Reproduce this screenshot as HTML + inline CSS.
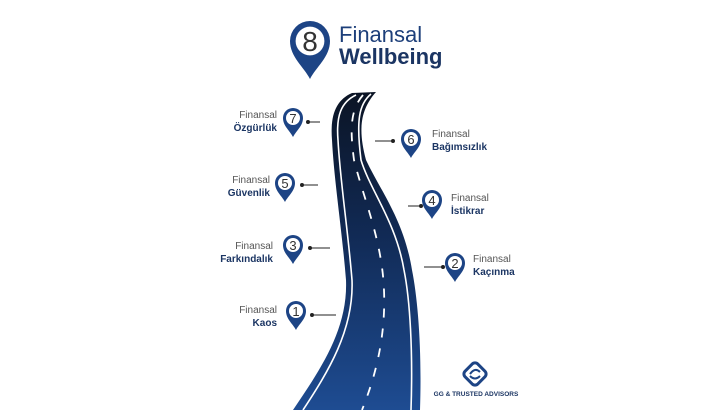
<!DOCTYPE html>
<html><head><meta charset="utf-8"><style>
html,body{margin:0;padding:0;background:#fff;}
body{width:728px;height:410px;overflow:hidden;position:relative;font-family:"Liberation Sans",sans-serif;}
.t{position:absolute;font-size:10px;line-height:13px;color:#555;}
.t b{color:#1b3563;font-weight:bold;display:block;}
.r{text-align:right;}
</style></head><body>
<svg width="728" height="410" style="position:absolute;left:0;top:0">
<defs>
<linearGradient id="g" x1="0" y1="0" x2="0" y2="1">
<stop offset="0" stop-color="#0b1424"/><stop offset="0.45" stop-color="#112a55"/><stop offset="1" stop-color="#1e4c92"/></linearGradient>
<g id="pin"><path d="M0,19 C-3,13 -10,8 -10,0 A10,10 0 1 1 10,0 C10,8 3,13 0,19Z" fill="#1d4485"/><circle r="7" fill="#fff"/></g>
</defs>
<path d="M352,93 C336,100 330,115 332,140 C334,180 342,230 346,280 C348,330 320,370 293,410 L420,410 C422,350 418,300 412,270 C404,220 380,190 366,160 C358,130 360,110 376,92 Z" fill="url(#g)"/>
<path d="M356,95 C341,102 336,116 338,140 C340,180 348,230 352,280 C354,330 328,372 303,410" fill="none" stroke="#fff" stroke-width="1.6"/>
<path d="M371,94 C359,104 356,120 361,160 C370,190 396,222 404,270 C410,300 413,350 411,410" fill="none" stroke="#fff" stroke-width="1.6"/>
<path d="M363,95 C350,110 350,130 354,160 C364,200 382,240 384,290 C386,340 374,380 362,410" fill="none" stroke="#fff" stroke-width="1.8" stroke-dasharray="9,11"/>
<g transform="translate(310,41) scale(2)"><path d="M0,19 C-3,13 -10,8 -10,0 A10,10 0 1 1 10,0 C10,8 3,13 0,19Z" fill="#1d4485"/><circle r="7.2" fill="#fff"/></g>
<text x="310" y="51" font-size="28" text-anchor="middle" fill="#333" font-family="Liberation Sans">8</text>
<g font-family="Liberation Sans" font-size="13" fill="#333" text-anchor="middle">
<use href="#pin" x="293" y="118"/><text x="293" y="123">7</text>
<use href="#pin" x="411" y="139"/><text x="411" y="144">6</text>
<use href="#pin" x="285" y="183"/><text x="285" y="188">5</text>
<use href="#pin" x="432" y="200"/><text x="432" y="205">4</text>
<use href="#pin" x="293" y="245"/><text x="293" y="250">3</text>
<use href="#pin" x="455" y="263"/><text x="455" y="268">2</text>
<use href="#pin" x="296" y="311"/><text x="296" y="316">1</text>
</g>
<g stroke="#222" stroke-width="1" fill="#222">
<line x1="308" y1="122" x2="320" y2="122"/><circle cx="308" cy="122" r="1.5"/>
<line x1="375" y1="141" x2="393" y2="141"/><circle cx="393" cy="141" r="1.5"/>
<line x1="302" y1="185" x2="318" y2="185"/><circle cx="302" cy="185" r="1.5"/>
<line x1="408" y1="206" x2="421" y2="206"/><circle cx="421" cy="206" r="1.5"/>
<line x1="310" y1="248" x2="330" y2="248"/><circle cx="310" cy="248" r="1.5"/>
<line x1="424" y1="267" x2="443" y2="267"/><circle cx="443" cy="267" r="1.5"/>
<line x1="312" y1="315" x2="336" y2="315"/><circle cx="312" cy="315" r="1.5"/>
</g>
<g fill="none" stroke="#1d4485" stroke-width="3">
<rect x="466" y="365" width="18" height="18" rx="4" transform="rotate(45 475 374)"/>
<path d="M470,374 q5,-7 10,-2 M470,376 q5,5 10,0" stroke-width="2"/>
</g>
<text x="476" y="396" font-size="6.5" font-weight="bold" text-anchor="middle" fill="#1b3563" font-family="Liberation Sans">GG &amp; TRUSTED ADVISORS</text>
</svg>
<div style="position:absolute;left:339px;top:23px;font-size:22px;line-height:23px;color:#1d3f7a;">Finansal</div>
<div style="position:absolute;left:339px;top:46px;font-size:22px;line-height:22px;color:#1b3563;font-weight:bold;">Wellbeing</div>
<div class="t r" style="right:451px;top:109px">Finansal<b>Özgürlük</b></div>
<div class="t" style="left:432px;top:128px">Finansal<b>Bağımsızlık</b></div>
<div class="t r" style="right:458px;top:174px">Finansal<b>Güvenlik</b></div>
<div class="t" style="left:451px;top:192px">Finansal<b>İstikrar</b></div>
<div class="t r" style="right:455px;top:240px">Finansal<b>Farkındalık</b></div>
<div class="t" style="left:473px;top:253px">Finansal<b>Kaçınma</b></div>
<div class="t r" style="right:451px;top:304px">Finansal<b>Kaos</b></div>
</body></html>
